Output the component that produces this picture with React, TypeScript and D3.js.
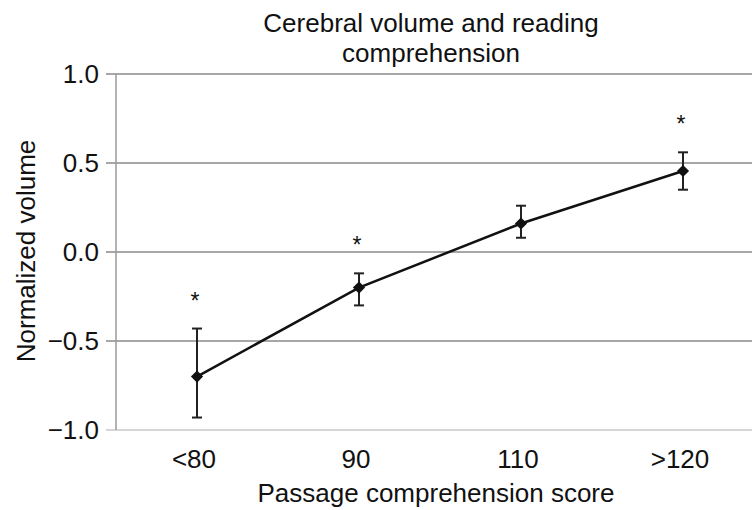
import { useEffect, useRef } from "react"
import * as d3 from "d3"

// Data
const categories = ["<80", "90", "110", ">120"]
const means = [-0.7, -0.2, 0.16, 0.455]
const errUpper = [-0.43, -0.12, 0.26, 0.56]
const errLower = [-0.93, -0.3, 0.08, 0.35]
const significant = [true, true, false, true]
const yTicks = [-1.0, -0.5, 0.0, 0.5, 1.0]

export default function App() {
  const svgRef = useRef<SVGSVGElement>(null)

  useEffect(() => {
    if (!svgRef.current) return
    const svg = d3.select(svgRef.current)
    svg.selectAll("*").remove()

    const font = "'Liberation Sans', Arial, Helvetica, sans-serif"
    const fs = 26
    const margin = { top: 74, right: -12, bottom: 80, left: 116 }
    const W = 752
    const H = 510
    const width = W - margin.left - margin.right
    const height = H - margin.top - margin.bottom

    const x = d3.scaleBand().domain(categories).range([0, width]).padding(0)
    const y = d3.scaleLinear().domain([-1, 1]).range([height, 0])

    const g = svg.append("g").attr("transform", `translate(${margin.left},${margin.top})`)

    // Grid lines + tick marks
    g.selectAll(".grid")
      .data(yTicks)
      .enter()
      .append("line")
      .attr("x1", -10)
      .attr("x2", width)
      .attr("y1", (d) => y(d))
      .attr("y2", (d) => y(d))
      .attr("stroke", (d) => (d === -1 ? "#c8c8c8" : "#8a8a8a"))
      .attr("stroke-width", 1.5)

    // Y axis line
    g.append("line")
      .attr("x1", 0)
      .attr("x2", 0)
      .attr("y1", y(1))
      .attr("y2", y(-1))
      .attr("stroke", "#9a9a9a")
      .attr("stroke-width", 1.5)

    // Y tick labels
    g.selectAll(".ylab")
      .data(yTicks)
      .enter()
      .append("text")
      .attr("x", -17)
      .attr("y", (d) => y(d))
      .attr("dy", "0.36em")
      .attr("text-anchor", "end")
      .attr("font-family", font)
      .attr("font-size", fs)
      .attr("fill", "#111")
      .text((d) => (d < 0 ? "\u2212" + Math.abs(d).toFixed(1) : d.toFixed(1)))

    // X tick labels
    g.selectAll(".xlab")
      .data(categories)
      .enter()
      .append("text")
      .attr("x", (d) => (x(d) || 0) + x.bandwidth() / 2 - 3)
      .attr("y", height + 38)
      .attr("text-anchor", "middle")
      .attr("font-family", font)
      .attr("font-size", fs)
      .attr("fill", "#111")
      .text((d) => d)

    const cx = (i: number) => (x(categories[i]) || 0) + x.bandwidth() / 2

    // Line
    const line = d3
      .line<number>()
      .x((_, i) => cx(i))
      .y((d) => y(d))
    g.append("path")
      .datum(means)
      .attr("d", line)
      .attr("fill", "none")
      .attr("stroke", "#111")
      .attr("stroke-width", 2.5)

    // Error bars
    means.forEach((_, i) => {
      const px = cx(i)
      g.append("line")
        .attr("x1", px).attr("x2", px)
        .attr("y1", y(errUpper[i])).attr("y2", y(errLower[i]))
        .attr("stroke", "#222").attr("stroke-width", 2)
      ;[errUpper[i], errLower[i]].forEach((v) => {
        g.append("line")
          .attr("x1", px - 5).attr("x2", px + 5)
          .attr("y1", y(v)).attr("y2", y(v))
          .attr("stroke", "#222").attr("stroke-width", 2)
      })
    })

    // Diamond markers
    g.selectAll(".pt")
      .data(means)
      .enter()
      .append("path")
      .attr("d", d3.symbol().type(d3.symbolDiamond2).size(95)())
      .attr("transform", (d, i) => `translate(${cx(i)},${y(d)})`)
      .attr("fill", "#111")

    // Significance asterisks
    means.forEach((_, i) => {
      if (!significant[i]) return
      g.append("text")
        .attr("x", cx(i) - 2)
        .attr("y", y(errUpper[i]) - 20)
        .attr("text-anchor", "middle")
        .attr("font-family", font)
        .attr("font-size", 23)
        .attr("fill", "#111")
        .text("*")
    })

    // Title
    const title = svg.append("text")
      .attr("text-anchor", "middle")
      .attr("font-family", font)
      .attr("font-size", fs)
      .attr("fill", "#111")
    title.append("tspan").attr("x", 431).attr("y", 32).text("Cerebral volume and reading")
    title.append("tspan").attr("x", 431).attr("y", 62).text("comprehension")

    // X axis title
    svg.append("text")
      .attr("x", 436)
      .attr("y", 502)
      .attr("text-anchor", "middle")
      .attr("font-family", font)
      .attr("font-size", fs)
      .attr("fill", "#111")
      .text("Passage comprehension score")

    // Y axis title
    svg.append("text")
      .attr("transform", `translate(35,251) rotate(-90)`)
      .attr("text-anchor", "middle")
      .attr("font-family", font)
      .attr("font-size", fs)
      .attr("fill", "#111")
      .text("Normalized volume")
  }, [])

  return (
    <svg
      ref={svgRef}
      width={752}
      height={510}
      style={{ position: "absolute", left: 0, top: 0, background: "#fff" }}
    />
  )
}
